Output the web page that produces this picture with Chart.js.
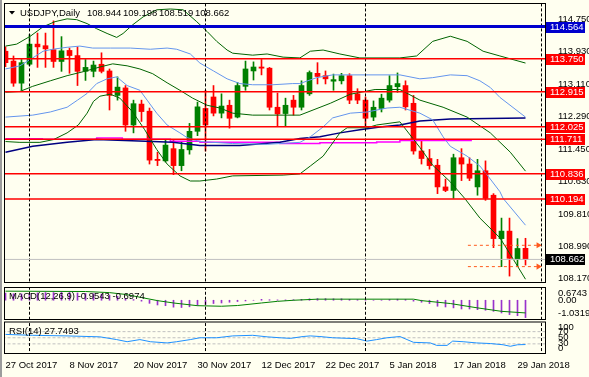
<!DOCTYPE html>
<html>
<head>
<meta charset="utf-8">
<script src="https://cdn.jsdelivr.net/npm/chart.js@4"></script>
<style>
  html, body { margin: 0; padding: 0; background: #fffff0; }
  #wrap { position: relative; width: 589px; height: 377px; overflow: hidden; background: #fffff0; }
  #wrap canvas { position: absolute; left: 0; }
  #edgeL { position: absolute; left: 0; top: 0; width: 2px; height: 377px; background: #9c9c9c; }
</style>
</head>
<body>
<div id="wrap">
  <canvas id="mainChart" width="589" height="286" style="top:0px"></canvas>
  <canvas id="macdChart" width="589" height="36" style="top:285px"></canvas>
  <canvas id="rsiChart" width="589" height="57" style="top:320px"></canvas>
  <div id="edgeL"></div>
</div>
<script>
// ---- candles (bar index 0 = 27 Oct 2017) ----
const barOpen = [113.94, 113.69, 113.13, 113.61, 114.12, 114.08, 113.98, 113.68, 113.96, 113.83,
  113.43, 113.43, 113.61, 113.44, 112.82, 113.01, 112.07, 112.60, 112.42, 111.20,
  111.16, 111.47, 111.04, 111.44, 111.91, 112.49, 112.78, 112.37, 112.57, 112.27,
  113.05, 113.44, 113.54, 113.51, 112.52, 112.36, 112.70, 112.52, 112.86, 113.38,
  113.32, 113.18, 113.19, 113.32, 112.86, 112.70, 112.27, 112.49, 112.70, 113.04,
  113.07, 112.62, 111.41, 111.22, 111.05, 110.50, 110.41, 111.24, 111.08, 110.50,
  110.91, 110.29, 109.19, 109.38, 108.66, 108.944];
const barHigh = [114.05, 113.82, 113.73, 114.36, 114.40, 114.40, 114.71, 114.31, 114.02, 114.05,
  113.73, 113.69, 113.90, 113.49, 113.29, 113.07, 112.70, 112.70, 112.50, 111.38,
  111.68, 111.68, 111.63, 112.11, 112.65, 112.95, 113.07, 112.86, 112.70, 113.15,
  113.69, 113.67, 113.73, 113.53, 112.88, 112.75, 112.82, 113.19, 113.44, 113.65,
  113.44, 113.36, 113.38, 113.37, 112.99, 112.78, 112.68, 112.85, 113.32, 113.39,
  113.19, 112.82, 111.70, 111.45, 111.20, 110.70, 111.33, 111.47, 111.24, 111.20,
  111.16, 110.33, 109.71, 109.71, 109.19, 109.198];
const barLow = [113.55, 113.05, 112.95, 113.57, 113.53, 113.53, 113.53, 113.43, 113.38, 113.07,
  113.20, 113.29, 113.39, 112.45, 112.70, 111.91, 111.87, 112.16, 111.08, 111.04,
  111.13, 110.81, 110.91, 111.33, 111.80, 111.41, 112.30, 112.25, 111.99, 112.25,
  112.95, 113.21, 113.34, 112.45, 112.03, 112.03, 112.32, 112.45, 112.82, 113.11,
  113.11, 112.95, 113.11, 112.61, 112.61, 112.03, 112.18, 112.40, 112.65, 112.90,
  112.45, 111.33, 111.08, 110.95, 110.33, 110.38, 110.21, 110.66, 110.66, 110.29,
  110.16, 108.96, 108.48, 108.24, 108.48, 108.519];
const barClose = [113.65, 113.13, 113.65, 114.12, 114.05, 114.00, 113.68, 113.95, 113.83, 113.43,
  113.53, 113.59, 113.43, 112.82, 113.03, 112.07, 112.61, 112.41, 111.18, 111.17,
  111.56, 111.04, 111.45, 111.91, 112.53, 112.07, 112.37, 112.55, 112.24, 113.07,
  113.49, 113.54, 113.51, 112.52, 112.35, 112.57, 112.52, 113.07, 113.40, 113.30,
  113.24, 113.22, 113.32, 112.70, 112.70, 112.24, 112.52, 112.75, 113.07, 113.12,
  112.53, 111.41, 111.22, 111.04, 110.50, 110.41, 111.24, 111.08, 110.72, 110.91,
  110.21, 109.19, 109.38, 108.69, 108.94, 108.662];

// ---- indicator lines on price chart: [bar index, price] ----
const bbUpper = [[0,114.07],[1.4,114.12],[3.1,114.32],[4.7,114.56],[6.2,114.69],[7.7,114.76],[8.9,114.74],
  [10.2,114.64],[11.4,114.51],[12.7,114.39],[13.9,114.29],[14.7,114.39],[15.9,114.61],[17.2,114.81],
  [18.9,114.99],[20.6,115.01],[22.2,114.99],[23.9,114.69],[25.2,114.44],[26.4,114.19],[27.7,113.97],
  [28.4,113.89],[30.9,113.84],[32.7,113.87],[34.7,113.79],[36.8,113.77],[38.1,113.94],[39.7,113.97],
  [41.8,113.87],[44.3,113.77],[49.3,113.77],[51.4,113.82],[53.4,114.19],[55.6,114.32],[57.7,114.19],
  [59.7,113.94],[61.8,113.82],[65,113.64]];
const bbMiddle = [[0,112.90],[1.8,112.92],[3.4,113.05],[5.6,113.19],[7.7,113.32],[9.7,113.42],[11.8,113.54],
  [13.4,113.62],[15.2,113.57],[16.8,113.49],[18.4,113.37],[20.2,113.14],[21.8,112.95],[23.4,112.75],
  [25.2,112.57],[26.8,112.50],[28.4,112.37],[30.9,112.32],[36.8,112.32],[40.6,112.62],[43.1,112.85],
  [46.2,112.97],[49.3,112.97],[51.8,112.70],[54.7,112.52],[57.7,112.27],[60.6,111.87],[63.1,111.38],
  [65,110.90]];
const bbLower = [[0,111.65],[1.8,111.63],[4.3,111.63],[6.0,111.70],[7.7,111.87],[9.1,112.07],[10.2,112.37],
  [11.0,112.67],[11.8,112.80],[13.1,112.85],[14.3,112.75],[15.9,112.40],[17.4,111.95],[18.9,111.45],
  [20.2,111.08],[21.8,110.78],[23.1,110.65],[24.3,110.65],[26.4,110.70],[28.4,110.78],[34.7,110.80],
  [36.8,110.83],[38.1,111.03],[39.7,111.28],[40.6,111.53],[41.8,111.87],[42.7,112.00],[45.2,112.00],
  [46.4,112.07],[49.3,112.15],[51.8,111.50],[53.4,111.05],[55.6,110.63],[57.4,110.21],[59.3,109.71],
  [61.8,109.21],[63.1,108.79],[65,108.16]];
const bandUpper = [[0,113.49],[1.8,113.57],[3.4,113.77],[4.7,113.94],[5.9,113.99],[7.7,114.04],[9.3,114.07],
  [10.9,114.02],[13.1,114.02],[15.6,114.02],[18.1,113.99],[20.2,114.02],[21.4,113.99],[23.1,113.87],
  [24.3,113.64],[26.0,113.44],[27.7,113.24],[29.3,113.12],[30.9,113.09],[33.4,113.09],[35.9,113.12],
  [36.8,113.12],[38.9,113.27],[40.9,113.34],[49.3,113.34],[51.8,113.24],[53.4,113.27],[55.6,113.34],
  [57.7,113.32],[59.3,113.19],[60.6,113.02],[61.8,112.77],[65,112.27]];
const bandLower = [[0,112.27],[3.4,112.32],[5.6,112.40],[7.7,112.52],[9.0,112.70],[10.2,112.87],[11.4,113.12],
  [12.7,113.24],[13.9,113.29],[15.2,113.07],[16.8,112.95],[17.7,112.70],[18.9,112.37],[20.2,112.07],
  [21.8,111.87],[22.7,111.75],[24.3,111.65],[28.4,111.60],[32.7,111.58],[36.8,111.63],[38.1,111.77],
  [39.7,112.02],[40.9,112.25],[43.1,112.37],[45.2,112.40],[47.7,112.50],[49.3,112.52],[51.8,112.37],
  [53.4,112.20],[54.7,111.77],[55.6,111.53],[57.7,111.28],[59.3,111.03],[60.6,110.70],[61.8,110.38],
  [62.2,110.21],[65,109.53]];
const maSlow = [[0,111.38],[3.4,111.53],[7.7,111.63],[11.4,111.70],[18.4,111.65],[20.9,111.63],[24.3,111.55],
  [29.3,111.55],[34.3,111.63],[36.8,111.73],[39.3,111.77],[41.8,111.87],[44.3,111.95],[46.8,112.02],
  [49.3,112.07],[51.8,112.17],[55.6,112.22],[65,112.25]];
const maStep = [[0,111.72],[4.6,111.71],[11.4,111.74],[14.6,111.71],[20.6,111.66],[24.3,111.63],
  [34.3,111.60],[39.3,111.62],[46.4,111.64],[49.3,111.68],[58.3,111.68]];

// ---- horizontal objects ----
const levelPrices = [114.564, 113.750, 112.915, 112.025, 111.711, 110.836, 110.194];
const levelColors = ['#0000cd', '#ff0000', '#ff0000', '#ff0000', '#ff0000', '#ff0000', '#ff0000'];
const bidPrice = 108.662;
const rangeMarks = [109.02, 108.48];
const priceTicks = [114.750, 113.930, 113.110, 112.290, 111.450, 110.630, 109.810, 108.990, 108.170];
const separatorBars = [3, 25, 45, 67];

// ---- dates ----
const dateTickBars = [0, 8, 16, 24, 32, 40, 48, 56, 64];
const dateTickLabels = ['27 Oct 2017', '8 Nov 2017', '20 Nov 2017', '30 Nov 2017', '12 Dec 2017',
  '22 Dec 2017', '5 Jan 2018', '17 Jan 2018', '29 Jan 2018'];

// ---- MACD(12,26,9) ----
const macdHist = [0.40, 0.36, 0.35, 0.38, 0.40, 0.42, 0.42, 0.43, 0.43, 0.40,
  0.38, 0.36, 0.34, 0.28, 0.22, 0.10, 0.04, -0.05, -0.17, -0.26,
  -0.30, -0.38, -0.40, -0.36, -0.29, -0.24, -0.18, -0.15, -0.11, -0.07,
  -0.04, 0.00, 0.05, 0.03, 0.02, 0.02, 0.03, 0.05, 0.08, 0.09,
  0.09, 0.08, 0.08, 0.05, 0.03, 0.00, 0.00, 0.01, 0.04, 0.06,
  0.04, -0.05, -0.11, -0.18, -0.33, -0.37, -0.42, -0.48, -0.48, -0.52,
  -0.55, -0.61, -0.70, -0.79, -0.85, -0.9543];
const macdSignal = [[0,0.50],[10,0.48],[13,0.42],[15,0.32],[17,0.15],[19,-0.02],[21,-0.15],[24,-0.30],
  [27,-0.33],[29,-0.29],[32,-0.15],[34,-0.06],[36,0.0],[39,0.06],[51,0.06],[52,-0.02],[55.6,-0.18],
  [59,-0.42],[62,-0.61],[65,-0.6974]];
const macdTickValues = [0.383, 0, -0.718];
const macdTickLabels = ['0.6743', '0.00', '-1.0319'];

// ---- RSI(14) ----
const rsiLine = [[0,61],[3.4,58],[7.7,56],[11.8,53],[13.9,44],[15.2,37],[16.8,44],[18.1,37],[20.2,33],
  [21.4,37],[23.1,44],[24.3,50],[26.4,50],[28.4,56],[30.9,58],[32.7,53],[34.3,50],[35.6,48],[37.2,54],
  [38.1,56],[39.3,54],[40.9,50],[43.9,47],[45.2,39],[46.4,44],[47.7,50],[49.3,54],[51,35],[53.1,33],
  [53.9,25],[55.2,25],[55.9,39],[57.2,37],[58.9,33],[60.6,31],[62.2,27],[63.1,22],[64,27],[65,27.7493]];
const rsiLevels = [70, 50, 30];
const rsiTickValues = [84, 70, 50, 30, 14.5];
const rsiTickLabels = ['100', '70', '50', '30', '0'];

const FONT_FAMILY = "'Liberation Sans', Arial, sans-serif";
const FONT_SIZE = 9.5;
const fontStr = FONT_SIZE + 'px ' + FONT_FAMILY;
const tickFont = { family: FONT_FAMILY, size: FONT_SIZE };

const PRICE_MIN = 108.09, PRICE_MAX = 115.137;
const X_MIN = -0.0625, X_MAX = 67.4375;
const BULL = '#008000', BEAR = '#ff0000';

function pts(arr) {
  return arr.map(([x, y]) => ({ x, y }));
}

function lineSet(points, color, width, extra) {
  return Object.assign({
    type: 'line', data: pts(points), borderColor: color, borderWidth: width,
    pointRadius: 0, tension: 0, fill: false, order: 5
  }, extra || {});
}

// y axis: fixed 44px wide and no extra padding for end labels
function fixedWidth(scale) {
  scale.width = 44;
  scale.paddingTop = 0;
  scale.paddingBottom = 0;
}

const xHidden = { type: 'linear', min: X_MIN, max: X_MAX, offset: false, display: false, grid: { offset: false } };

const framePlugin = {
  id: 'frame',
  afterDatasetsDraw(chart) {
    const a = chart.chartArea, c = chart.ctx;
    c.save();
    c.strokeStyle = '#000';
    c.lineWidth = 1;
    c.strokeRect(a.left - 0.5, a.top - 0.5, a.right - a.left + 1, a.bottom - a.top + 1);
    c.restore();
  }
};

function textPlugin(id, items) {
  return {
    id: id,
    afterDraw(chart) {
      const c = chart.ctx;
      c.save();
      c.font = fontStr;
      c.textBaseline = 'middle';
      c.fillStyle = '#000';
      items.forEach(t => c.fillText(t[0], t[1], t[2]));
      c.restore();
    }
  };
}

const priceBoxPlugin = {
  id: 'priceBoxes',
  afterDraw(chart) {
    const ys = chart.scales.y, c = chart.ctx;
    const boxes = levelPrices.map((p, i) => ({ p, bg: levelColors[i] }));
    boxes.push({ p: bidPrice, bg: '#000' });
    c.save();
    c.font = fontStr;
    c.textBaseline = 'middle';
    boxes.forEach(b => {
      const y = Math.round(ys.getPixelForValue(b.p));
      c.fillStyle = b.bg;
      c.fillRect(546, y - 5, 39, 11);
      c.fillStyle = '#fff';
      c.fillText(b.p.toFixed(3), 550, y + 0.5);
    });
    c.fillStyle = '#000';
    c.beginPath();
    c.moveTo(9, 11); c.lineTo(15, 11); c.lineTo(12, 14.5); c.closePath();
    c.fill();
    c.restore();
  }
};

// ---- main price chart ----
const bodyColors = barOpen.map((o, i) => barClose[i] >= o ? BULL : BEAR);

const mainSets = [
  { type: 'bar', data: barOpen.map((o, i) => ({ x: i, y: [barLow[i], barHigh[i]] })),
    backgroundColor: bodyColors, barThickness: 1, grouped: false, order: 10 },
  { type: 'bar', data: barOpen.map((o, i) => ({ x: i, y: [o, barClose[i]] })),
    backgroundColor: bodyColors, barThickness: 5, minBarLength: 1, grouped: false, order: 9 },
  lineSet(bbUpper, '#006400', 1),
  lineSet(bbMiddle, '#006400', 1),
  lineSet(bbLower, '#006400', 1),
  lineSet(bandUpper, '#6495ed', 1),
  lineSet(bandLower, '#6495ed', 1),
  lineSet(maSlow, '#000080', 1.5),
  lineSet(maStep, '#ff00ff', 1.5, { stepped: 'before' }),
  lineSet([[-1, bidPrice], [70, bidPrice]], '#c0c0c0', 1, { order: 2 })
];
levelPrices.forEach((p, i) => {
  mainSets.push(lineSet([[-1, p], [70, p]], levelColors[i], i === 0 ? 3 : 1.5, { order: 1 }));
});
rangeMarks.forEach(p => {
  mainSets.push(lineSet([[57.8, p], [66.6, p]], '#ff5a1e', 1, {
    order: 1, borderDash: [3, 3], pointRadius: [0, 3.5], pointStyle: 'triangle', rotation: 90,
    pointBackgroundColor: '#ff5a1e', pointBorderWidth: 0
  }));
});
separatorBars.forEach(b => {
  mainSets.push(lineSet([[b, PRICE_MIN - 1], [b, PRICE_MAX + 1]], '#000', 1, { borderDash: [3, 2], order: 3 }));
});

new Chart(document.getElementById('mainChart'), {
  type: 'bar',
  data: { datasets: mainSets },
  options: {
    responsive: false, animation: false, events: [],
    layout: { padding: { left: 5, top: 2, right: 0, bottom: 1 } },
    plugins: { legend: { display: false }, tooltip: { enabled: false } },
    scales: {
      x: xHidden,
      y: {
        position: 'right', min: PRICE_MIN, max: PRICE_MAX, afterFit: fixedWidth,
        afterBuildTicks: s => { s.ticks = priceTicks.map(v => ({ value: v })); },
        grid: { display: false }, border: { display: false },
        ticks: { color: '#000', padding: 5, autoSkip: false, font: tickFont,
          callback: v => Number(v).toFixed(3) }
      }
    }
  },
  plugins: [framePlugin, priceBoxPlugin, textPlugin('mainTitle', [
    ['USDJPY,Daily', 20, 13], ['108.944', 87, 13], ['109.198', 123, 13], ['108.519', 159, 13], ['108.662', 195, 13]
  ])]
});

// ---- MACD ----
const macdSets = [
  { type: 'bar', data: macdHist.map((v, i) => ({ x: i, y: v })), backgroundColor: '#9932cc',
    barThickness: 1, grouped: false, order: 8 },
  lineSet(macdSignal, '#008000', 1)
];
separatorBars.forEach(b => {
  macdSets.push(lineSet([[b, -3], [b, 3]], '#000', 1, { borderDash: [3, 2], order: 3 }));
});

new Chart(document.getElementById('macdChart'), {
  type: 'bar',
  data: { datasets: macdSets },
  options: {
    responsive: false, animation: false, events: [],
    layout: { padding: { left: 5, top: 3, right: 0, bottom: 2 } },
    plugins: { legend: { display: false }, tooltip: { enabled: false } },
    scales: {
      x: xHidden,
      y: {
        position: 'right', min: -1.0319, max: 0.6743, afterFit: fixedWidth,
        afterBuildTicks: s => { s.ticks = macdTickValues.map(v => ({ value: v })); },
        grid: { display: false }, border: { display: false },
        ticks: { color: '#000', padding: 5, autoSkip: false, font: tickFont,
          callback: (v, i) => macdTickLabels[i] }
      }
    }
  },
  plugins: [framePlugin, textPlugin('macdTitle', [['MACD(12,26,9) -0.9543 -0.6974', 9, 11]])]
});

// ---- RSI ----
const rsiSets = [lineSet(rsiLine, '#1e90ff', 1)];
rsiLevels.forEach(v => {
  rsiSets.push(lineSet([[-1, v], [70, v]], '#c0c0c0', 1, { borderDash: [3, 2], order: 6 }));
});
separatorBars.forEach(b => {
  rsiSets.push(lineSet([[b, -10], [b, 110]], '#000', 1, { borderDash: [3, 2], order: 3 }));
});

new Chart(document.getElementById('rsiChart'), {
  type: 'line',
  data: { datasets: rsiSets },
  options: {
    responsive: false, animation: false, events: [],
    layout: { padding: { left: 5, top: 2.5, right: 0, bottom: 0 } },
    plugins: { legend: { display: false }, tooltip: { enabled: false } },
    scales: {
      x: {
        type: 'linear', min: X_MIN, max: X_MAX, offset: false,
        afterFit: s => { s.height = 24; s.paddingLeft = 0; s.paddingRight = 0; },
        afterBuildTicks: s => { s.ticks = dateTickBars.map(v => ({ value: v })); },
        grid: { display: false }, border: { display: false },
        ticks: { color: '#000', padding: -1, autoSkip: false, maxRotation: 0, align: 'start',
          font: tickFont, callback: (v, i) => dateTickLabels[i] }
      },
      y: {
        position: 'right', min: 0, max: 100, afterFit: fixedWidth,
        afterBuildTicks: s => { s.ticks = rsiTickValues.map(v => ({ value: v })); },
        grid: { display: false }, border: { display: false },
        ticks: { color: '#000', padding: 5, autoSkip: false, font: tickFont,
          callback: (v, i) => rsiTickLabels[i] }
      }
    }
  },
  plugins: [framePlugin, textPlugin('rsiTitle', [['RSI(14) 27.7493', 9, 11.5]])]
});
</script>
</body>
</html>
